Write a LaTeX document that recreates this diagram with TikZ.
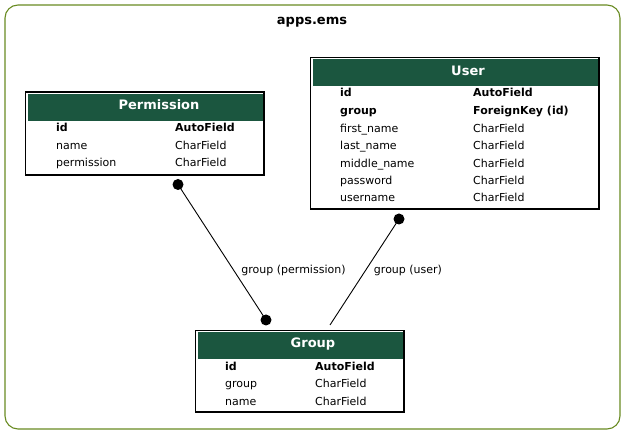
\documentclass[tikz,border=0pt]{standalone}
\usepackage{fontspec}
\setmainfont{DejaVu Sans}
\definecolor{modelhead}{HTML}{1B563F}
\definecolor{appframe}{HTML}{698B22}
\tikzset{
  tablebox/.style={draw=black,line width=1.2pt},
  headfill/.style={fill=modelhead,draw=none},
  headtext/.style={text=white,font=\fontsize{13}{15}\selectfont\bfseries},
  keyfield/.style={anchor=base west,inner sep=0pt,font=\fontsize{11}{13}\selectfont\bfseries},
  plainfield/.style={anchor=base west,inner sep=0pt,font=\fontsize{11}{13}\selectfont},
  relabel/.style={inner sep=0pt,font=\fontsize{11}{13}\selectfont},
  reldot/.style={fill=black,draw=none}
}
\begin{document}
\begin{tikzpicture}[x=1pt,y=-1pt]
		\useasboundingbox (0,0) rectangle (625,435);
		% app cluster
		\draw[appframe,line width=1.1pt,rounded corners=13pt] (5,5) rectangle (620,429);
		\node[font=\fontsize{13}{15}\selectfont\bfseries] (app) at (312,22) {apps.ems};
		% Permission
		\draw[tablebox] (25.5,92) rectangle (264,175);
		\fill[headfill] (28,94) rectangle (263,121);
		\node[headtext] (permission) at (159,105) {Permission};
		\node[keyfield] (permid) at (56,132) {id};
		\node[keyfield] at (175,132) {AutoField};
		\node[plainfield] at (56,150) {name};
		\node[plainfield] at (175,150) {CharField};
		\node[plainfield] at (56,167) {permission};
		\node[plainfield] at (175,167) {CharField};
		% User
		\draw[tablebox] (310.5,57.5) rectangle (599,209);
		\fill[headfill] (313,59.5) rectangle (598,86.5);
		\node[headtext] (user) at (468,71) {User};
		\node[keyfield] (userid) at (340,97) {id};
		\node[keyfield] at (473,97) {AutoField};
		\node[keyfield] at (340,115) {group};
		\node[keyfield] at (473,115) {ForeignKey (id)};
		\foreach \fname [count=\i] in {first\_name,last\_name,middle\_name,password,username}
			{
			\node[plainfield] at (340,115+17.4*\i) {\fname};
			\node[plainfield] at (473,115+17.4*\i) {CharField};
			}
		% Group
		\draw[tablebox] (195.5,330.5) rectangle (404,412);
		\fill[headfill] (198,332.5) rectangle (403,359);
		\node[headtext] (group) at (313,344) {Group};
		\node[keyfield] (groupid) at (225,371) {id};
		\node[keyfield] at (315,371) {AutoField};
		\node[plainfield] at (225,388) {group};
		\node[plainfield] at (315,388) {CharField};
		\node[plainfield] at (225,406) {name};
		\node[plainfield] at (315,406) {CharField};
		% relations
		\coordinate (permend) at (178,184.5);
		\coordinate (grpend) at (266,320);
		\coordinate (userend) at (399,219);
		\coordinate (grpuser) at (330,325);
		\draw[line width=0.9pt] (permend) -- (grpend);
		\draw[line width=0.9pt] (userend) -- (grpuser);
		\fill[reldot] (permend) circle (5.5);
		\fill[reldot] (grpend) circle (5.5);
		\fill[reldot] (userend) circle (5.5);
		\node[relabel] (permlabel) at (293.5,270) {group (permission)};
		\node[relabel] (userlabel) at (408,270) {group (user)};
	\end{tikzpicture}
\end{document}
